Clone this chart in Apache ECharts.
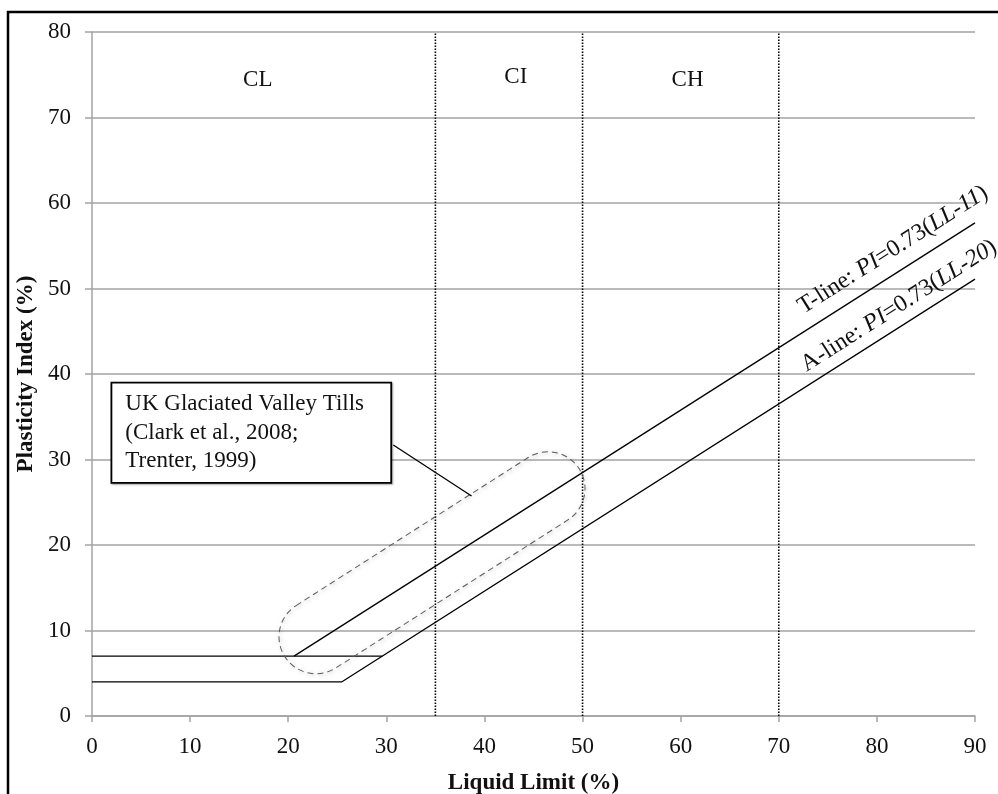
<!DOCTYPE html>
<html>
<head>
<meta charset="utf-8">
<title>Plasticity chart</title>
<script src="https://cdn.jsdelivr.net/npm/echarts@6/dist/echarts.min.js"></script>
<style>
  html, body { margin: 0; padding: 0; background: #fff; }
  #chart { width: 998px; height: 794px; }
</style>
</head>
<body>
<div id="chart"></div>
<script>
// Axis ranges and ticks
var xTicks = [0, 10, 20, 30, 40, 50, 60, 70, 80, 90];
var yTicks = [0, 10, 20, 30, 40, 50, 60, 70, 80];

// A-line: PI = 0.73(LL-20), with the horizontal base at PI = 4
var aLine = [[0, 4], [25.48, 4], [90, 51.1]];
// Horizontal limit at PI = 7 (runs to the A-line)
var baseLine7 = [[0, 7], [29.59, 7]];
// T-line: PI = 0.73(LL-11), starting from PI = 7
var tLine = [[20.59, 7], [90, 57.67]];

// Liquid limit boundaries between plasticity zones
var zoneBounds = [35, 50, 70];
var zoneNames = ['CL', 'CI', 'CH'];
var zoneLabelX = [16.9, 43.2, 60.7];
var zoneLabelY = [74.4, 74.7, 74.4];

// Envelope of UK glaciated valley tills: centres of the two rounded ends
var envelopeStart = [22.83, 9.27];
var envelopeEnd = [46.48, 26.58];

// Annotation box (left edge, vertical centre) and its leader
var noteLines = ['UK Glaciated Valley Tills', '(Clark et al., 2008;', 'Trenter, 1999)'];
var noteAnchor = [2.07, 33.13];
var noteLeader = [[30.71, 31.7], [38.69, 25.73]];

// Equation labels along the lines
var tLabelAt = [81.64, 54.53];
var aLabelAt = [82.25, 47.97];

var FONT = "'Liberation Serif', 'Times New Roman', serif";
var GRID_GREY = '#a3a3a3';

var chart = echarts.init(document.getElementById('chart'), null, { renderer: 'canvas' });

var series = [];

// zone boundaries (dotted verticals)
zoneBounds.forEach(function (x) {
  series.push({
    type: 'line', data: [[x, 0], [x, 80]], symbol: 'none', silent: true,
    lineStyle: { color: '#000', width: 1.6, type: [1.5, 1.5] }, z: 3
  });
});

function solid(data) {
  return {
    type: 'line', data: data, symbol: 'none', silent: true,
    lineStyle: { color: '#000', width: 1.3 }, z: 4
  };
}
series.push(solid(aLine));
series.push(solid(baseLine7));
series.push(solid(tLine));

// envelope (rounded capsule)
var R = 37;
series.push({
  type: 'custom',
  silent: true,
  z: 5,
  data: [[envelopeStart[0], envelopeStart[1], envelopeEnd[0], envelopeEnd[1]]],
  renderItem: function (params, api) {
    var p1 = api.coord([api.value(0), api.value(1)]);
    var p2 = api.coord([api.value(2), api.value(3)]);
    var dx = p2[0] - p1[0], dy = p2[1] - p1[1];
    var len = Math.sqrt(dx * dx + dy * dy);
    var ang = Math.atan2(-dy, dx);
    return {
      type: 'rect',
      x: p1[0], y: p1[1], rotation: ang,
      shape: { x: -R, y: -R, width: len + 2 * R, height: 2 * R, r: R },
      style: {
        fill: 'none', stroke: '#5a5a5a', lineWidth: 1, lineDash: [6, 4],
        shadowBlur: 4, shadowColor: 'rgba(0,0,0,0.35)', shadowOffsetX: 1, shadowOffsetY: 1
      }
    };
  }
});

// leader from annotation box to envelope
series.push({
  type: 'line', data: noteLeader, symbol: 'none', silent: true,
  lineStyle: { color: '#000', width: 1.3 }, z: 6
});

// annotation box
series.push({
  type: 'scatter', symbolSize: 0, silent: true, z: 7,
  itemStyle: { opacity: 1 },
  data: [noteAnchor],
  label: {
    show: true, position: 'inside',
    formatter: noteLines.join('\n'),
    fontFamily: FONT, fontSize: 23, color: '#111', lineHeight: 28.5,
    align: 'left', width: 265,
    backgroundColor: '#fff', borderColor: '#000', borderWidth: 1.8,
    padding: [8, 0, 5, 13],
    shadowColor: 'rgba(0,0,0,0.35)', shadowBlur: 2, shadowOffsetX: 1, shadowOffsetY: 1
  }
});

// zone names
series.push({
  type: 'scatter', symbolSize: 0, silent: true, z: 7,
  itemStyle: { opacity: 1 },
  data: zoneNames.map(function (n, i) { return { name: n, value: [zoneLabelX[i], zoneLabelY[i]] }; }),
  label: {
    show: true, position: 'inside', formatter: '{b}',
    fontFamily: FONT, fontSize: 23, color: '#111'
  }
});

// equation labels
var rich = {
  n: { fontFamily: FONT, fontSize: 24, color: '#111' },
  i: { fontFamily: FONT, fontSize: 24, color: '#111', fontStyle: 'italic' }
};
function eqLabel(at, text) {
  return {
    type: 'scatter', symbolSize: 0, silent: true, z: 7,
    itemStyle: { opacity: 1 },
    data: [at],
    label: {
      show: true, position: 'inside', rotate: 32.4,
      formatter: text, rich: rich
    }
  };
}
series.push(eqLabel(tLabelAt, '{n|T-line: }{i|PI}{n|=0.73(}{i|LL-11}{n|)}'));
series.push(eqLabel(aLabelAt, '{n|A-line: }{i|PI}{n|=0.73(}{i|LL-20}{n|)}'));

chart.setOption({
  animation: false,
  textStyle: { fontFamily: FONT },
  grid: { left: 92, right: 23, top: 32, bottom: 78, containLabel: false, outerBoundsMode: 'none' },
  graphic: [{
    type: 'rect', silent: true, z: 100,
    shape: { x: 8, y: 12, width: 1010, height: 810 },
    style: { fill: 'none', stroke: '#000', lineWidth: 2.5 }
  }],
  xAxis: {
    type: 'value', min: xTicks[0], max: xTicks[xTicks.length - 1], interval: 10,
    name: 'Liquid Limit (%)', nameLocation: 'middle', nameGap: 56,
    nameTextStyle: { fontFamily: FONT, fontSize: 23, fontWeight: 'bold', color: '#111' },
    axisLine: { show: true, lineStyle: { color: GRID_GREY, width: 1.5 } },
    axisTick: { show: true, length: 6, lineStyle: { color: GRID_GREY, width: 1.5 } },
    axisLabel: { fontFamily: FONT, fontSize: 23, color: '#111', margin: 19 },
    splitLine: { show: false }
  },
  yAxis: {
    type: 'value', min: yTicks[0], max: yTicks[yTicks.length - 1], interval: 10,
    name: 'Plasticity Index (%)', nameLocation: 'middle', nameGap: 46,
    nameTextStyle: { fontFamily: FONT, fontSize: 23, fontWeight: 'bold', color: '#111' },
    axisLine: { show: true, lineStyle: { color: GRID_GREY, width: 1.5 } },
    axisTick: { show: true, length: 7, lineStyle: { color: GRID_GREY, width: 1.5 } },
    axisLabel: { fontFamily: FONT, fontSize: 23, color: '#111', margin: 21 },
    splitLine: { show: true, lineStyle: { color: GRID_GREY, width: 1.5 } }
  },
  series: series
});
</script>
</body>
</html>
